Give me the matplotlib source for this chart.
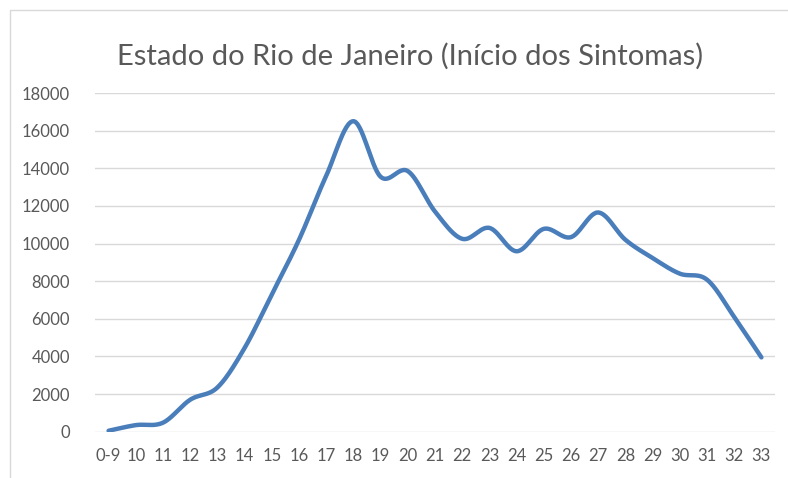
import numpy as np
import matplotlib.pyplot as plt
from matplotlib.patches import Rectangle

# ------------------------------ dane ------------------------------

semanas = ["0-9", "10", "11", "12", "13", "14", "15", "16", "17", "18", "19", "20",
           "21", "22", "23", "24", "25", "26", "27", "28", "29", "30", "31", "32", "33"]

casos = [50, 350, 480, 1700, 2350, 4450, 7300, 10200, 13600, 16500, 13550, 13850,
         11700, 10250, 10830, 9590, 10780, 10340, 11650, 10200, 9230, 8400, 8080, 6100, 3950]

y_ticks = [0, 2000, 4000, 6000, 8000, 10000, 12000, 14000, 16000, 18000]


# ------------------------------ wygladzanie jak w Excelu ------------------------------


def smooth_line(x, y, steps=30):
    # krzywa Catmull-Rom przechodzaca przez punkty danych
    x = np.asarray(x, dtype=float)
    y = np.asarray(y, dtype=float)
    px = np.concatenate([[x[0]], x, [x[-1]]])
    py = np.concatenate([[y[0]], y, [y[-1]]])
    xs, ys = [], []
    t = np.linspace(0, 1, steps, endpoint=False)
    for i in range(1, len(px) - 2):
        for arr_in, arr_out in ((px, xs), (py, ys)):
            p0, p1, p2, p3 = arr_in[i - 1], arr_in[i], arr_in[i + 1], arr_in[i + 2]
            c1 = p1 + (p2 - p0) / 6
            c2 = p2 - (p3 - p1) / 6
            b = ((1 - t)**3 * p1 + 3 * (1 - t)**2 * t * c1
                 + 3 * (1 - t) * t**2 * c2 + t**3 * p2)
            arr_out.extend(b)
    xs.append(x[-1])
    ys.append(y[-1])
    return np.array(xs), np.array(ys)


# ------------------------------ wykres ------------------------------

W, H = 788, 478
fig = plt.figure(figsize=(W / 100, H / 100), dpi=100)
fig.patch.set_facecolor("white")

# ramka wykresu
fig.patches.append(Rectangle((10 / W, -0.1), 1.2, 1 - 10 / H + 0.1,
                             transform=fig.transFigure, fill=False,
                             edgecolor="#d9d9d9", linewidth=1.0))

ax = fig.add_axes([95 / W, 1 - 431.7 / H, (775 - 95) / W, (431.7 - 93) / H])

x = np.arange(len(semanas))
xs, ys = smooth_line(x, casos)
ax.plot(xs, ys, color="#4a7ebb", linewidth=3.2, solid_capstyle="round",
        solid_joinstyle="round", zorder=3)

ax.set_xlim(-0.5, len(semanas) - 0.5)
ax.set_ylim(0, 18000)
ax.set_yticks(y_ticks)
ax.set_yticklabels([str(v) for v in y_ticks])
ax.set_xticks(x)
ax.set_xticklabels(semanas)

ax.grid(axis="y", color="#d9d9d9", linewidth=1.0)
ax.set_axisbelow(True)
for side in ["top", "right", "left", "bottom"]:
    ax.spines[side].set_visible(False)
ax.tick_params(axis="both", length=0, labelsize=12, labelcolor="#595959")
ax.tick_params(axis="y", pad=18)
ax.tick_params(axis="x", pad=12)
for lab in ax.get_xticklabels() + ax.get_yticklabels():
    lab.set_fontfamily("Lato")

fig.text(410 / W, 1 - 56 / H, "Estado do Rio de Janeiro (Início dos Sintomas)",
         ha="center", va="center", fontsize=21, color="#595959",
         fontfamily="Lato")

fig.savefig("out.png", dpi=100)
